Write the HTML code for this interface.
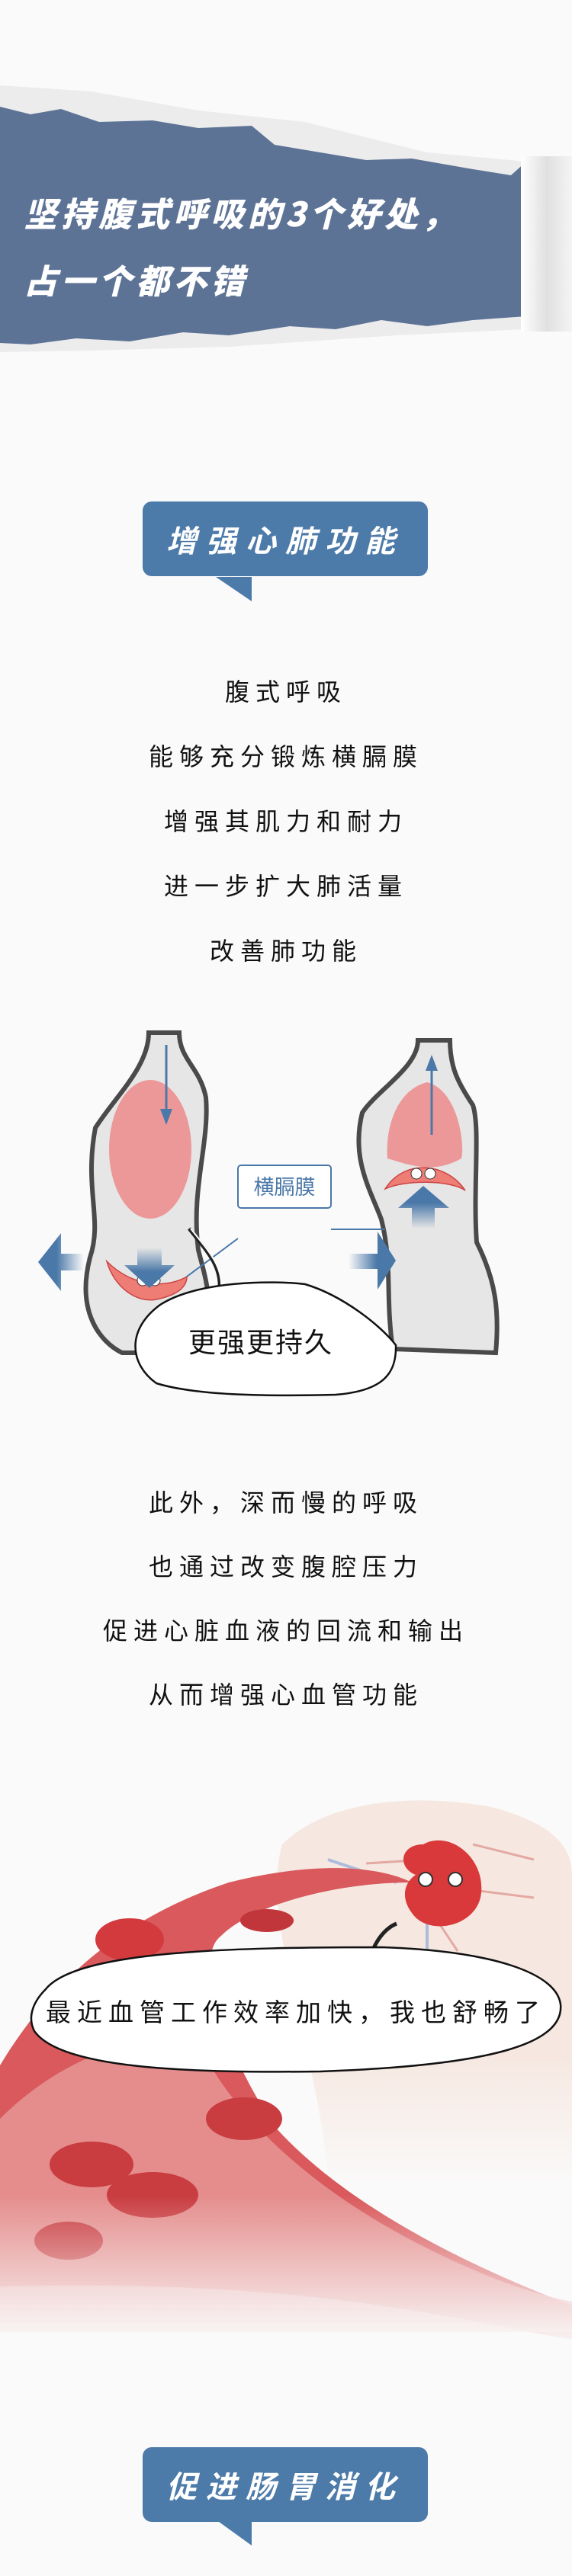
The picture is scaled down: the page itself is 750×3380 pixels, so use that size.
<!DOCTYPE html>
<html><head><meta charset="utf-8"><style>
*{margin:0;padding:0;box-sizing:border-box}
body{width:750px;height:3380px;position:relative;background:#fafafa;font-family:"Liberation Sans","Noto Sans CJK SC",sans-serif;overflow:hidden}
.abs{position:absolute}
.t{position:absolute;left:0;width:750px;text-align:center;font-size:32px;letter-spacing:8px;color:#111;line-height:40px}
.tag{position:absolute;left:187px;width:374px;height:98px;background:#4c7aa9;border-radius:12px;color:#fff;font-weight:bold;font-style:italic;font-size:40px;letter-spacing:12px;text-align:center;line-height:98px;font-family:"Noto Sans CJK SC",sans-serif}
</style></head><body>
<svg class="abs" style="left:0;top:0" width="750" height="3380">
<defs>
<linearGradient id="fade" x1="0" y1="0" x2="0" y2="1"><stop offset="0" stop-color="#fafafa" stop-opacity="0"/><stop offset="1" stop-color="#fafafa"/></linearGradient>
<linearGradient id="curl" x1="0" y1="0" x2="1" y2="0"><stop offset="0" stop-color="#fff"/><stop offset="0.5" stop-color="#e0e0e0"/><stop offset="1" stop-color="#f4f4f4"/></linearGradient>
<linearGradient id="ah" x1="0" y1="0" x2="1" y2="0"><stop offset="0" stop-color="#4a78a8" stop-opacity="0"/><stop offset="0.6" stop-color="#4a78a8"/></linearGradient>
<linearGradient id="av" x1="0" y1="0" x2="0" y2="1"><stop offset="0" stop-color="#4a78a8" stop-opacity="0"/><stop offset="0.6" stop-color="#4a78a8"/></linearGradient>
<linearGradient id="av2" x1="0" y1="1" x2="0" y2="0"><stop offset="0" stop-color="#4a78a8" stop-opacity="0"/><stop offset="0.6" stop-color="#4a78a8"/></linearGradient>
<linearGradient id="ah2" x1="1" y1="0" x2="0" y2="0"><stop offset="0" stop-color="#4a78a8" stop-opacity="0"/><stop offset="0.6" stop-color="#4a78a8"/></linearGradient>
</defs>
<path d="M0 112 L120 120 L260 145 L400 160 L560 200 L690 212 L690 432 L520 440 L300 455 L120 460 L0 462 Z" fill="#ececec"/>
<path d="M0 140 L40 150 L80 143 L130 160 L200 158 L260 168 L330 165 L360 190 L420 200 L480 210 L540 208 L620 222 L670 230 L690 212 L690 415 L620 420 L560 428 L500 420 L440 432 L380 428 L300 440 L240 436 L170 448 L100 444 L40 452 L0 450 Z" fill="#5d7396"/>
<rect x="683" y="205" width="67" height="230" fill="url(#curl)"/>
<path d="M195 1355 C195 1400 150 1440 125 1480 C110 1560 135 1600 118 1650 C100 1720 130 1760 160 1775 L260 1775 C285 1720 270 1680 260 1640 C250 1560 275 1500 270 1440 C262 1400 235 1390 235 1355 Z" fill="#e6e6e6" stroke="#4a4a4a" stroke-width="6"/>
<path d="M548 1365 C548 1400 495 1430 475 1460 C460 1520 485 1560 500 1600 C515 1660 505 1700 515 1770 L650 1775 C655 1720 650 1680 625 1630 C620 1560 630 1480 620 1450 C600 1420 590 1400 590 1365 Z" fill="#e6e6e6" stroke="#4a4a4a" stroke-width="6"/>
<ellipse cx="197" cy="1508" rx="54" ry="91" fill="#ec9898"/>
<path d="M140 1655 C150 1690 180 1710 205 1705 C230 1700 245 1690 245 1675 C220 1690 175 1690 140 1655 Z" fill="#ee7d75" stroke="#c44" stroke-width="1.5"/>
<path d="M560 1420 C600 1430 610 1500 605 1520 C570 1540 540 1530 508 1520 C505 1480 520 1430 560 1420 Z" fill="#ec9898"/>
<path d="M505 1560 C530 1520 585 1525 610 1562 C590 1548 530 1548 505 1560 Z" fill="#ee7d75" stroke="#c44" stroke-width="1.5"/>
<circle cx="187" cy="1680" r="7" fill="#fff" stroke="#333"/><circle cx="203" cy="1680" r="7" fill="#fff" stroke="#333"/>
<circle cx="546" cy="1540" r="7" fill="#fff" stroke="#333"/><circle cx="564" cy="1540" r="7" fill="#fff" stroke="#333"/>
<line x1="218" y1="1371" x2="218" y2="1460" stroke="#4a78a8" stroke-width="3"/><path d="M210 1455 L226 1455 L218 1476 Z" fill="#4a78a8"/>
<line x1="566" y1="1400" x2="566" y2="1489" stroke="#4a78a8" stroke-width="3"/><path d="M558 1405 L574 1405 L566 1384 Z" fill="#4a78a8"/>
<path d="M180 1637 L212 1637 L212 1660 L229 1660 L196 1690 L163 1660 L180 1660 Z" fill="url(#av)"/>
<path d="M110 1645 L80 1645 L80 1618 L50 1656 L80 1694 L80 1667 L110 1667 Z" fill="url(#ah2)"/>
<path d="M457 1645 L495 1645 L495 1616 L519 1654 L495 1692 L495 1665 L457 1665 Z" fill="url(#ah)"/>
<path d="M540 1612 L570 1612 L570 1585 L589 1585 L555 1556 L522 1585 L540 1585 Z" fill="url(#av2)"/>
<line x1="245" y1="1675" x2="312" y2="1625" stroke="#4a78a8" stroke-width="2"/>
<line x1="434" y1="1613" x2="505" y2="1613" stroke="#4a78a8" stroke-width="2"/>
<rect x="312" y="1529" width="122" height="56" rx="4" fill="#fff" stroke="#4a78a8" stroke-width="2"/>
<text x="373" y="1567" font-size="27" fill="#4a78a8" text-anchor="middle" font-family="Noto Sans CJK SC,sans-serif">横膈膜</text>
<path d="M248 1612 C270 1640 290 1660 288 1690" fill="none" stroke="#222" stroke-width="5"/>
<path d="M250 1612 C272 1640 292 1660 290 1690" fill="none" stroke="#fff" stroke-width="2"/>
<path d="M210 1712 C260 1680 360 1680 400 1685 C450 1700 500 1740 519 1765 C520 1800 505 1825 440 1830 C360 1832 260 1832 205 1815 C170 1790 165 1745 210 1712 Z" fill="#fff" stroke="#111" stroke-width="2.5"/>
<text x="342" y="1774" font-size="36" fill="#111" text-anchor="middle" font-family="Noto Sans CJK SC,sans-serif" letter-spacing="2">更强更持久</text>
<path d="M370 2420 C420 2370 520 2350 640 2370 C720 2390 750 2420 750 2460 L750 2860 L430 2860 C420 2700 340 2520 370 2420 Z" fill="#f3d9cc" opacity="0.55"/>
<rect x="340" y="2700" width="410" height="170" fill="url(#fade)"/>
<path d="M480 2445 L560 2440 M540 2470 L600 2560 M620 2420 L700 2440 M620 2480 L700 2490" stroke="#d8807a" stroke-width="3" opacity="0.6"/>
<path d="M430 2440 L520 2470 M560 2520 L560 2640" stroke="#7ea0d8" stroke-width="4" opacity="0.6"/>
<path d="M0 2710 C60 2610 150 2520 300 2470 C420 2440 500 2450 540 2470 C440 2470 330 2500 290 2540 C250 2570 300 2700 360 2790 C440 2880 580 2960 750 3025 L750 3070 C580 3040 400 2990 0 3000 Z" fill="#d9595c"/>
<path d="M0 2780 C80 2700 200 2650 270 2700 C320 2790 420 2880 560 2950 C640 2990 700 3010 750 3020 L750 3060 L0 3060 Z" fill="#e69a98" opacity="0.8"/>
<ellipse cx="120" cy="2840" rx="55" ry="30" fill="#c93c40"/><ellipse cx="200" cy="2880" rx="60" ry="30" fill="#c93c40"/>
<ellipse cx="320" cy="2780" rx="50" ry="28" fill="#c93c40"/><ellipse cx="90" cy="2940" rx="45" ry="25" fill="#c93c40"/>
<ellipse cx="170" cy="2545" rx="45" ry="28" fill="#d23a3e"/><ellipse cx="350" cy="2520" rx="35" ry="15" fill="#c0363a"/>
<rect x="0" y="2880" width="750" height="200" fill="url(#fade)"/>
<path d="M545 2460 C520 2450 525 2420 555 2420 C590 2400 640 2440 630 2490 C620 2530 560 2540 540 2510 C525 2490 530 2470 545 2460 Z" fill="#d9393a"/>
<circle cx="558" cy="2466" r="9" fill="#fff" stroke="#333" stroke-width="2"/><circle cx="597" cy="2466" r="9" fill="#fff" stroke="#333" stroke-width="2"/>
<path d="M520 2524 C505 2530 495 2545 490 2556" fill="none" stroke="#222" stroke-width="5"/>
<path d="M60 2610 C100 2560 300 2555 500 2555 C650 2560 730 2590 735 2630 C740 2680 650 2710 420 2718 C250 2720 80 2715 45 2665 C35 2645 45 2625 60 2610 Z" fill="#fff" stroke="#111" stroke-width="2.5"/>
<text x="388" y="2652" font-size="33" fill="#111" text-anchor="middle" font-family="Noto Sans CJK SC,sans-serif" letter-spacing="8">最近血管工作效率加快，我也舒畅了</text>
<path d="M283 757 L330 757 L330 789 Z" fill="#4c7aa9"/>
<path d="M283 3306 L330 3306 L330 3340 Z" fill="#4c7aa9"/>
</svg>
<div class="abs" style="left:31px;top:234px;color:#fff;font-size:44px;font-weight:900;font-style:italic;letter-spacing:5px;line-height:88px;font-family:'Noto Sans CJK SC',sans-serif">坚持腹式呼吸的3个好处，<br>占一个都不错</div>
<div class="tag" style="top:658px">增强心肺功能</div>
<div class="t" style="top:888px">腹式呼吸</div>
<div class="t" style="top:973px">能够充分锻炼横膈膜</div>
<div class="t" style="top:1058px">增强其肌力和耐力</div>
<div class="t" style="top:1143px">进一步扩大肺活量</div>
<div class="t" style="top:1228px">改善肺功能</div>
<div class="t" style="top:1952px">此外，深而慢的呼吸</div>
<div class="t" style="top:2036px">也通过改变腹腔压力</div>
<div class="t" style="top:2120px">促进心脏血液的回流和输出</div>
<div class="t" style="top:2204px">从而增强心血管功能</div>
<div class="tag" style="top:3211px">促进肠胃消化</div>
</body></html>
